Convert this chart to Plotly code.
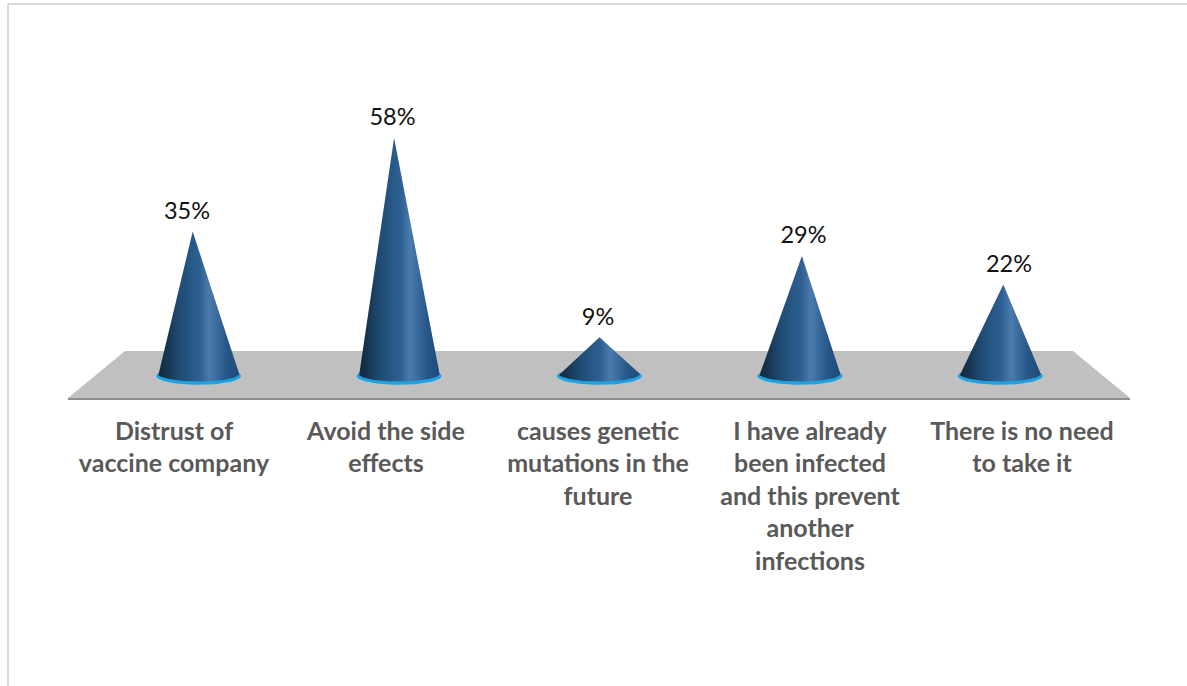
import numpy as np
import plotly.graph_objects as go

# Survey results: reasons given for refusing the vaccine
categories = [
    "Distrust of<br>vaccine company",
    "Avoid the side<br>effects",
    "causes genetic<br>mutations in the<br>future",
    "I have already<br>been infected<br>and this prevent<br>another<br>infections",
    "There is no need<br>to take it",
]
percent_values = [35, 58, 9, 29, 22]

WIDTH, HEIGHT = 1187, 686
LEFT_PX, RIGHT_PX = 68, 1130   # extent of the floor's front edge
ZERO_PX, PX_PER_PCT = 374, 4.07

def frac_x(px):
    return px / WIDTH

def index_range(centre_px, step_px):
    # Axis range that places category index 2 at centre_px, with step_px between categories
    return [2 + (LEFT_PX - centre_px) / step_px, 2 + (RIGHT_PX - centre_px) / step_px]

CONE_STEP, CONE_CENTRE = 200.4, 599.5
LABEL_STEP, LABEL_CENTRE = 205.5, 598
TICK_STEP, TICK_CENTRE = 212, 598

def to_cone_x(px):
    return 2 + (px - CONE_CENTRE) / CONE_STEP

def to_pct(py):
    return (ZERO_PX - py) / PX_PER_PCT

fig = go.Figure()

# Grey floor plane in perspective
fig.add_trace(go.Scatter(
    x=[to_cone_x(p) for p in (LEFT_PX, 125, 1073, RIGHT_PX, LEFT_PX)],
    y=[to_pct(p) for p in (398, 351, 351, 398, 398)],
    mode="lines", line=dict(width=0), fill="toself", fillcolor="#c0c0c0",
    hoverinfo="skip", xaxis="x", yaxis="y",
))

# Each cone tilts slightly away from the middle of the floor
apex_lean_px = [-6, -5, 0, 2, 3]
RX = 40.5 / CONE_STEP
RY = 7.5 / PX_PER_PCT
theta = np.linspace(np.pi, 2 * np.pi, 60)
ring = np.linspace(0, 2 * np.pi, 90)

cone_shading = [
    [0.00, "#10293f"], [0.10, "#15344f"], [0.25, "#1f4a72"], [0.40, "#275785"],
    [0.52, "#2e6094"], [0.63, "#4a7bac"], [0.72, "#3b6c9f"], [0.85, "#265688"],
    [1.00, "#1c4a79"],
]

for i, value in enumerate(percent_values):
    # Cyan rim under the base
    fig.add_trace(go.Scatter(
        x=i + (RX + 2 / CONE_STEP) * np.cos(ring),
        y=-0.5 + (RY + 0.3) * np.sin(ring),
        mode="lines", line=dict(width=0), fill="toself", fillcolor="#1ea3e0",
        hoverinfo="skip", xaxis="x", yaxis="y",
    ))
    # Cone body: apex down to the left of the base, round the front arc, back up
    xs = np.concatenate([[i + apex_lean_px[i] / CONE_STEP], i + RX * np.cos(theta)])
    ys = np.concatenate([[value], RY * np.sin(theta)])
    fig.add_trace(go.Scatter(
        x=np.append(xs, xs[0]), y=np.append(ys, ys[0]),
        mode="lines", line=dict(width=0), fill="toself",
        fillgradient=dict(type="horizontal", colorscale=cone_shading),
        hoverinfo="skip", xaxis="x", yaxis="y",
    ))

# Percentage labels above the apexes; the clear marker sets their distance from the tip
fig.add_trace(go.Scatter(
    x=list(range(len(percent_values))), y=percent_values,
    text=[f"{v}%" for v in percent_values],
    mode="markers+text", textposition="top center",
    marker=dict(size=9, opacity=0),
    textfont=dict(family="Lato", size=23.5, color="#111111"),
    hoverinfo="skip", xaxis="x3", yaxis="y",
))

# Invisible trace that keeps the category axis active
fig.add_trace(go.Scatter(
    x=list(range(len(categories))), y=[0] * len(categories),
    mode="markers", marker=dict(opacity=0), hoverinfo="skip",
    xaxis="x2", yaxis="y",
))

domain = [frac_x(LEFT_PX), frac_x(RIGHT_PX)]
fig.update_layout(
    width=WIDTH, height=HEIGHT, showlegend=False,
    margin=dict(l=0, r=0, t=0, b=0),
    paper_bgcolor="white", plot_bgcolor="rgba(0,0,0,0)",
    xaxis=dict(domain=domain, range=index_range(CONE_CENTRE, CONE_STEP), visible=False),
    xaxis2=dict(
        domain=domain, range=index_range(TICK_CENTRE, TICK_STEP),
        overlaying="x", anchor="free", position=1 - 398.5 / HEIGHT, side="bottom",
        tickmode="array", tickvals=list(range(len(categories))), ticktext=categories,
        ticks="outside", ticklen=10, tickcolor="rgba(0,0,0,0)", tickangle=0,
        tickfont=dict(family="Lato", size=25, weight=700, color="#595959"),
        showline=True, linecolor="#8f8f8f", linewidth=2, showgrid=False, zeroline=False,
    ),
    xaxis3=dict(domain=domain, range=index_range(LABEL_CENTRE, LABEL_STEP),
                overlaying="x", visible=False),
    yaxis=dict(domain=[0, 1], range=[to_pct(HEIGHT), to_pct(0)], visible=False),
    shapes=[
        dict(type="line", xref="paper", yref="paper", x0=frac_x(8), x1=frac_x(8),
             y0=0, y1=1 - 4 / HEIGHT, line=dict(color="#d9d9d9", width=2)),
        dict(type="line", xref="paper", yref="paper", x0=frac_x(8), x1=1,
             y0=1 - 4 / HEIGHT, y1=1 - 4 / HEIGHT, line=dict(color="#d9d9d9", width=2)),
    ],
)

fig.write_html("out.html")
